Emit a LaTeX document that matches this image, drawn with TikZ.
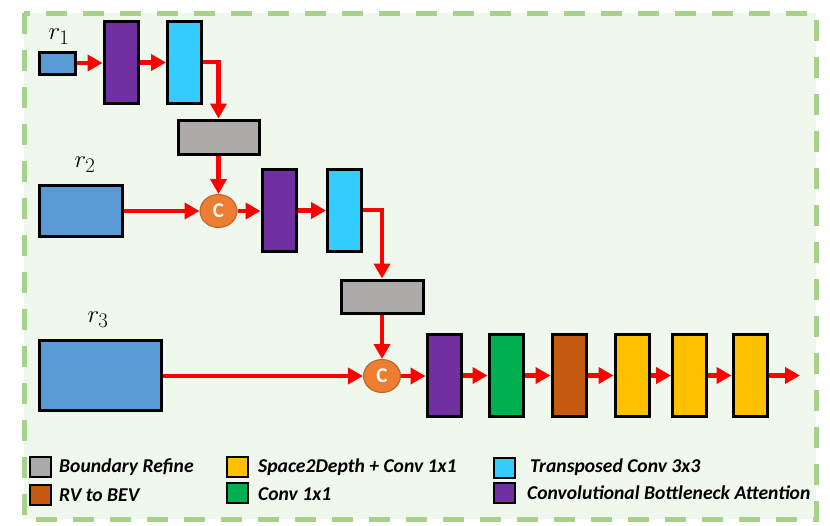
\documentclass[tikz,border=0pt]{standalone}
\usepackage{fontspec}
\newfontfamily\carlito{Carlito}
\usetikzlibrary{arrows.meta,shapes.geometric}
\definecolor{rblue}{HTML}{5B9BD5}
\definecolor{cpurple}{HTML}{7030A0}
\definecolor{ccyan}{HTML}{33CCFF}
\definecolor{cgray}{HTML}{AEAAAA}
\definecolor{cgreen}{HTML}{00B050}
\definecolor{cbrown}{HTML}{C55A11}
\definecolor{cyellow}{HTML}{FFC000}
\definecolor{corange}{HTML}{ED7D31}
\definecolor{corangeb}{HTML}{B8642A}
\definecolor{bordergreen}{HTML}{A9D18E}
\definecolor{bggreen}{HTML}{F0F7EC}
\begin{document}
\begin{tikzpicture}[x=1pt,y=-1pt,
  blk/.style={draw=black,line width=3pt,inner sep=0pt,minimum width=#1},
  tall/.style={blk=34pt,minimum height=82pt},
  cat/.style={ellipse,draw=corangeb,line width=1pt,fill=corange,inner sep=0pt,minimum width=37pt,minimum height=33pt,text=white,font=\carlito\bfseries\fontsize{21}{21}\selectfont},
  arr/.style={draw=red,line width=4.5pt,-{Triangle[length=15pt,width=16pt]}},
  lgbox/.style={draw=black,line width=2pt,inner sep=0pt,minimum width=21pt,minimum height=20pt},
  lgtext/.style={anchor=west,inner sep=0pt,font=\carlito\bfseries\itshape\fontsize{19.6}{19.6}\selectfont},
  rlab/.style={inner sep=0pt,font=\fontsize{28}{28}\selectfont}]
\useasboundingbox (0,0) rectangle (830,525);
\fill[bggreen] (24,13) rectangle (816,519);
\draw[bordergreen,line width=5pt,dash pattern=on 21pt off 16pt] (24,13) rectangle (816,519);

% row 1
\node[blk=36pt,minimum height=22pt,fill=rblue] (r1) at (57,63) {};
\node[rlab] (lr1) at (59,37) {$r_1$};
\node[tall,fill=cpurple] (p1) at (121,62.5) {};
\node[tall,fill=ccyan] (c1) at (184.5,62) {};
\node[blk=81pt,minimum height=34pt,fill=cgray] (g1) at (218.5,137) {};
\node[cat] (k1) at (218.5,211) {C};

% row 2
\node[blk=83pt,minimum height=51pt,fill=rblue] (r2) at (80.5,211) {};
\node[rlab] (lr2) at (85,165) {$r_2$};
\node[tall,fill=cpurple] (p2) at (279,210.5) {};
\node[tall,fill=ccyan] (c2) at (344.5,210) {};
\node[blk=82pt,minimum height=33pt,fill=cgray] (g2) at (382,296.5) {};
\node[cat] (k2) at (382,376) {C};

% row 3
\node[blk=122pt,minimum height=70pt,fill=rblue] (r3) at (100,375) {};
\node[rlab] (lr3) at (98,320) {$r_3$};
\node[tall,fill=cpurple] (p3) at (444,375.5) {};
\node[tall,fill=cgreen] (q1) at (506,375.5) {};
\node[tall,fill=cbrown] (q2) at (569,375.5) {};
\node[tall,fill=cyellow] (q3) at (632,375.5) {};
\node[tall,fill=cyellow] (q4) at (689.5,375.5) {};
\node[tall,fill=cyellow] (q5) at (750,375.5) {};
\coordinate (out) at (800,375.5);

% connectors
\draw[arr] (r1.east) -- (p1.west |- r1.east);
\draw[arr] (p1) -- (c1.west |- p1);
\draw[arr] (c1.east) -| (g1.north);
\draw[arr] (g1.south) -- (k1.north);
\draw[arr] (r2.east) -- (k1.west);
\draw[arr] (k1.east) -- (p2.west |- k1.east);
\draw[arr] (p2.east) -- (c2.west |- p2.east);
\draw[arr] (c2.east) -| (g2.north);
\draw[arr] (g2.south) -- (k2.north);
\draw[arr] (r3.east |- k2.west) -- (k2.west);
\draw[arr] (k2.east) -- (p3.west |- k2.east);
\draw[arr] (p3) -- (q1);
\draw[arr] (q1) -- (q2);
\draw[arr] (q2) -- (q3);
\draw[arr] (q3) -- (q4);
\draw[arr] (q4) -- (q5);
\draw[arr] (q5.east) -- (out);

% legend
\node[lgbox,fill=cgray] (l1) at (40,467) {};
\node[lgtext] (t1) at (59,467) {Boundary Refine};
\node[lgbox,fill=cbrown] (l2) at (40,495) {};
\node[lgtext] (t2) at (59,495) {RV to BEV};
\node[lgbox,fill=cyellow] (l3) at (237.5,467) {};
\node[lgtext] (t3) at (258,467) {Space2Depth + Conv 1x1};
\node[lgbox,fill=cgreen] (l4) at (237.5,493) {};
\node[lgtext] (t4) at (258,494) {Conv 1x1};
\node[lgbox,fill=ccyan] (l5) at (504.5,467.5) {};
\node[lgtext] (t5) at (530,467) {Transposed Conv 3x3};
\node[lgbox,fill=cpurple] (l6) at (504.5,492.5) {};
\node[lgtext] (t6) at (527,493) {Convolutional Bottleneck Attention};
\end{tikzpicture}
\end{document}
